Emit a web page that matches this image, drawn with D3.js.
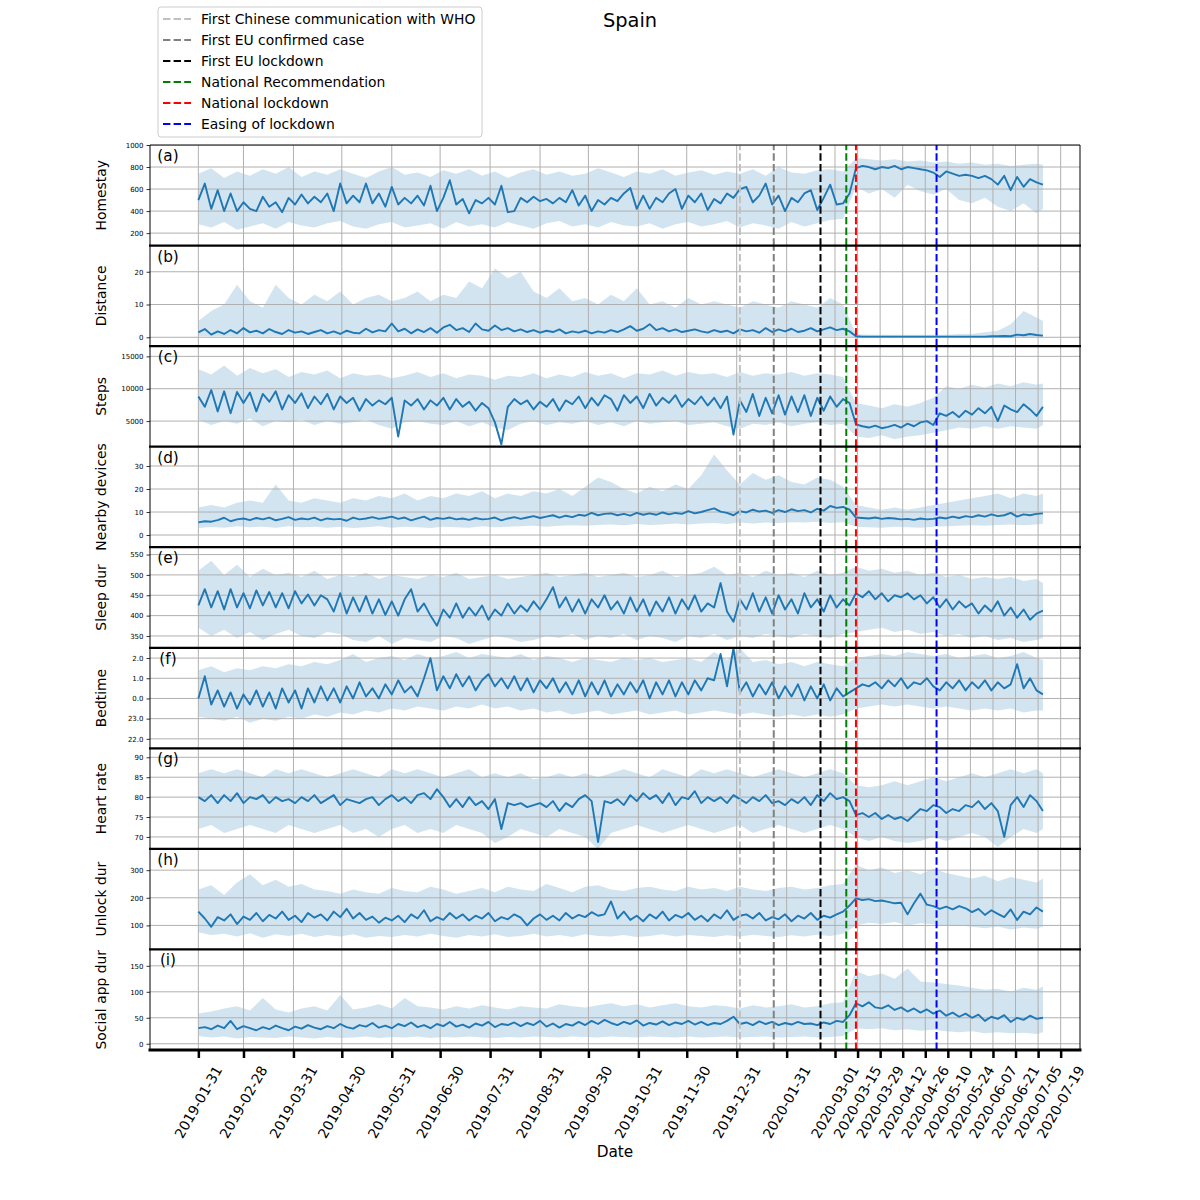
<!DOCTYPE html>
<html>
<head>
<meta charset="utf-8">
<script src="https://cdn.jsdelivr.net/npm/d3@7"></script>
<style>
  body { margin: 0; background: #fff; }
  text { font-family: "DejaVu Sans", sans-serif; }
</style>
</head>
<body>
<script>
// one value every 4 days from 2019-01-31, band every 8 days (+ last day)
const firstDayStr = '2019-01-31';

const homestay = [
  500,650,420,590,400,560,400,480,420,400,
  530,440,480,390,520,460,550,470,530,480,
  560,400,650,470,540,480,650,470,560,440,
  620,460,520,470,540,450,630,400,520,680,
  460,510,380,500,470,520,460,630,390,400,
  520,480,530,490,510,470,520,480,590,450,
  540,400,500,460,520,490,560,610,420,540,
  420,520,480,560,600,420,540,480,560,410,
  510,470,560,520,600,620,480,540,650,460,
  540,400,520,480,560,590,410,520,640,460,
  470,560,790,810,800,780,800,790,810,780,
  800,790,780,770,750,710,760,740,720,730,
  720,700,720,690,640,720,590,710,620,690,
  660,640];
const homestayLo = [
  280,250,300,230,260,290,240,300,270,250,
  290,310,260,240,280,300,250,270,290,240,
  300,260,280,250,300,270,240,290,310,260,
  280,250,300,270,260,290,240,280,300,260,
  280,310,250,290,270,240,300,260,290,320,
  330,620,560,600,520,640,580,550,600,500,
  470,520,440,400,470,380,420];
const homestayHi = [
  740,790,700,760,720,780,740,800,710,760,
  730,780,740,700,760,800,730,750,710,770,
  740,780,720,760,700,750,780,730,760,720,
  740,790,750,710,760,740,780,720,750,770,
  730,760,740,780,720,800,750,740,770,780,
  760,880,870,860,870,850,860,840,850,830,
  840,820,830,810,820,830,820];

const distance = [
  1.5,2.5,0.8,1.8,1.0,2.2,1.2,2.8,1.5,2.0,
  1.2,2.5,1.6,1.0,2.2,1.4,1.8,1.0,1.6,2.2,
  1.2,1.8,1.0,2.0,1.4,1.2,2.6,1.5,2.2,1.8,
  4.2,1.8,2.6,1.2,2.4,1.6,2.8,1.4,3.0,3.8,
  2.2,2.8,1.6,4.2,2.4,2.0,3.6,2.2,2.8,1.8,
  2.4,1.6,2.2,1.4,2.0,1.6,2.4,1.2,1.8,1.4,
  2.0,1.2,1.8,1.4,2.2,1.6,2.4,3.4,2.0,2.6,
  4.0,2.2,2.8,1.8,2.4,1.6,2.0,2.4,1.8,1.4,
  2.2,1.6,2.0,1.2,2.4,1.8,2.2,1.4,2.8,1.6,
  2.4,1.8,2.6,1.6,2.0,2.8,1.8,2.4,3.0,2.2,
  2.6,1.8,0.3,0.2,0.2,0.2,0.2,0.2,0.2,0.2,
  0.2,0.2,0.2,0.2,0.2,0.2,0.2,0.2,0.2,0.2,
  0.2,0.2,0.2,0.3,0.3,0.4,0.3,0.8,0.6,1.0,
  0.7,0.5];
const distanceLo = [
  0.3,0.2,0.3,0.2,0.3,0.2,0.3,0.2,0.3,0.2,
  0.3,0.2,0.3,0.2,0.3,0.2,0.3,0.2,0.3,0.2,
  0.2,0.3,0.2,0.3,0.2,0.3,0.2,0.3,0.2,0.3,
  0.2,0.3,0.2,0.3,0.2,0.3,0.2,0.3,0.2,0.3,
  0.3,0.2,0.3,0.2,0.3,0.2,0.3,0.2,0.3,0.2,
  0.3,0,0,0,0,0,0,0,0,0,
  0,0,0,0,0,0,0];
const distanceHi = [
  5,8,10,16,11,9,16,12,10,13,
  11,14,10,12,13,11,12,14,11,13,
  12,17,15,21,18,20,14,12,15,11,
  12,10,13,11,15,10,11,9,12,10,
  11,10,9,11,10,9,11,10,9,12,
  10,1,0.8,0.8,0.8,0.8,0.8,0.8,0.8,1,
  1,1.5,2,4,8,6,5];

const steps = [
  8800,7200,9800,6500,9600,6200,9500,7800,9400,6500,
  9200,8000,9600,6800,9000,7800,9300,7000,8800,7600,
  9200,6800,8800,7800,8600,6600,8400,7400,8200,7600,
  8600,2600,8200,7400,8400,6800,8200,7400,8600,6800,
  8400,7200,8000,6600,7800,7000,4800,1400,7200,8400,
  7600,8200,6800,8000,7200,8400,6600,8200,7600,8800,
  7000,8600,7400,9000,8400,6600,9000,7800,8800,7000,
  9200,7400,8600,7800,9000,7200,8400,7600,8800,7400,
  8600,7000,8800,2900,8200,6400,9200,5800,8600,6200,
  9000,6000,8800,6400,9000,5800,8600,6600,8800,7200,
  8400,7800,4500,4200,4000,4300,3900,4100,4400,4000,
  4600,4200,4800,5000,4400,6200,5800,6400,5600,6600,
  6000,7000,6200,7200,5000,7400,6800,6400,7600,6800,
  5800,7200];
const stepsLo = [
  5200,4400,5000,4600,5400,4200,5000,4800,5200,4400,
  5000,4600,4800,5200,4400,3800,4800,5000,4600,4400,
  5000,4200,4800,4000,3600,4600,5000,4400,4800,4600,
  5000,4400,4800,4200,5000,4600,4800,5000,4400,4600,
  4800,4200,3800,4600,4400,4800,4200,4600,4800,4400,
  4600,2600,2400,2800,2200,2600,2800,3200,3600,4000,
  3800,4200,3800,4200,4000,3800,4400];
const stepsHi = [
  13000,12200,13600,12000,13200,12400,13000,11800,12600,12200,
  12800,11600,12400,12000,12200,11600,12000,12600,11800,12400,
  11600,12200,12000,11400,12000,11800,12400,11600,12200,11800,
  12600,12000,12400,11600,12400,12200,12800,12000,12600,12200,
  12400,11800,12600,12000,12400,12200,12600,12000,12400,12200,
  11800,7800,7400,7000,7600,7200,7800,8600,10400,10000,
  10600,10200,10800,10400,11000,10600,10800];

const nearby = [
  5.5,6.0,5.8,6.5,7.5,6.0,6.8,7.2,6.5,7.4,
  6.8,7.6,6.4,7.0,7.8,6.6,7.2,6.8,7.6,6.4,
  7.2,6.8,7.0,6.2,7.6,6.8,7.2,7.8,7.0,7.4,
  8.0,7.0,7.6,6.4,7.2,8.0,6.6,7.4,7.0,7.6,
  6.8,7.2,6.6,7.4,6.8,7.0,7.6,6.4,7.2,7.8,
  7.0,7.6,8.2,7.4,8.0,8.6,7.6,8.4,7.8,8.8,
  8.4,9.6,8.6,9.2,9.4,8.6,9.2,8.4,9.6,8.8,
  9.4,8.8,9.8,9.0,9.6,9.2,10.4,9.4,10.0,10.8,
  11.6,10.2,9.6,8.6,10.4,9.8,11.0,10.2,10.6,9.6,
  10.8,10.0,11.2,10.4,10.8,9.8,11.4,10.6,12.6,11.8,
  12.2,11.0,7.6,7.4,7.2,7.6,7.0,7.4,7.2,6.8,
  7.0,6.6,7.2,6.8,7.0,7.6,7.2,8.0,7.4,8.2,
  7.8,8.6,8.0,9.0,8.2,8.6,9.6,8.0,9.0,8.6,
  9.2,9.4];
const nearbyLo = [
  3.0,3.5,3.2,3.8,3.4,3.6,3.2,3.8,3.4,3.6,
  3.2,3.6,3.0,3.4,3.8,3.2,3.6,3.4,3.0,3.6,
  3.4,3.2,3.8,3.4,3.6,3.8,4.0,3.6,4.0,4.2,
  4.0,4.4,4.6,4.2,4.8,4.4,4.6,5.0,4.6,5.0,
  5.2,4.8,5.4,5.0,5.4,5.2,5.6,5.4,5.8,5.2,
  5.6,3.6,3.4,3.2,3.6,3.4,3.2,3.6,3.8,4.0,
  4.2,4.0,4.4,4.6,4.2,4.6,4.8];
const nearbyHi = [
  12,13,12,14,15,14,22,15,14,16,
  15,14,16,15,17,16,18,15,17,16,
  18,17,19,16,18,17,19,18,20,17,
  21,25,23,20,18,21,19,22,20,26,
  35,28,22,27,24,26,23,22,25,24,
  21,13,12,11,12,11,12,13,14,15,
  16,17,18,16,18,17,18];

const sleep = [
  425,465,420,460,415,465,420,455,418,462,
  425,458,420,455,418,460,430,452,425,450,
  440,410,455,405,445,410,448,405,440,402,
  435,400,440,465,410,430,400,375,415,395,
  430,395,420,400,425,390,415,400,430,405,
  425,410,435,415,440,470,420,445,410,440,
  405,440,420,450,415,435,405,445,410,440,
  400,435,410,445,405,440,415,450,410,430,
  420,480,410,385,440,415,455,410,445,405,
  450,415,440,405,455,420,440,410,450,420,
  440,425,455,445,460,440,455,435,450,445,
  455,440,450,430,445,420,440,415,435,420,
  430,405,425,410,435,400,420,395,415,390,
  405,412];
const sleepLo = [
  370,350,365,345,360,340,355,365,350,345,
  360,355,340,335,350,330,345,340,335,350,
  345,330,340,350,345,335,340,350,345,355,
  340,350,345,355,340,350,345,335,350,345,
  355,340,350,345,355,350,345,355,350,345,
  355,360,365,370,360,365,355,360,350,355,
  345,350,340,345,335,340,345];
const sleepHi = [
  510,535,500,525,495,515,500,505,495,510,
  490,500,495,505,490,500,495,490,500,495,
  505,490,495,500,490,495,500,505,495,500,
  505,495,500,505,495,500,510,495,500,505,
  520,500,505,495,510,500,505,495,510,500,
  505,520,510,515,505,510,500,505,495,500,
  490,495,490,495,485,490,480];

// hours relative to midnight (negative = before 0:00)
const bedtime = [
  0.0,1.1,-0.3,0.4,-0.4,0.3,-0.5,0.2,-0.3,0.4,
  -0.4,0.3,-0.5,0.5,-0.2,0.4,-0.5,0.5,-0.2,0.6,
  -0.1,0.5,-0.2,0.6,0.0,0.8,0.1,0.5,0.0,0.7,
  0.2,0.9,0.3,0.6,0.1,1.0,2.0,0.4,1.1,0.5,
  1.2,0.6,1.1,0.4,0.9,1.2,0.6,1.0,0.5,1.1,
  0.4,1.0,0.3,0.9,0.5,1.0,0.3,0.8,0.2,0.9,
  0.1,0.8,0.2,0.9,0.1,0.7,0.2,0.8,0.3,0.9,
  0.0,0.8,0.2,0.9,0.1,0.8,0.2,0.9,0.4,1.0,
  0.9,2.2,0.6,2.5,0.3,0.8,0.1,0.7,0.2,0.8,
  0.0,0.6,0.1,0.7,-0.1,0.6,0.0,0.7,-0.1,0.5,
  0.1,0.3,0.5,0.7,0.6,0.8,0.5,0.9,0.6,1.0,
  0.5,0.8,0.7,1.0,0.6,0.4,0.8,0.5,0.9,0.4,
  0.8,0.5,0.9,0.4,0.8,0.5,0.7,1.7,0.5,1.0,
  0.4,0.2];
const bedtimeLo = [
  -0.9,-1.0,-1.1,-0.9,-1.2,-1.0,-1.1,-0.9,-1.0,-0.8,
  -0.9,-0.7,-0.8,-0.6,-0.7,-0.5,-0.6,-0.4,-0.5,-0.6,
  -0.4,-0.5,-0.3,-0.5,-0.4,-0.6,-0.5,-0.7,-0.6,-0.8,
  -0.7,-0.6,-0.8,-0.7,-0.6,-0.8,-0.7,-0.6,-0.8,-0.7,
  -0.6,-0.7,-0.8,-0.7,-0.8,-0.9,-0.8,-0.9,-0.8,-0.9,
  -0.8,-0.5,-0.4,-0.3,-0.4,-0.3,-0.4,-0.5,-0.4,-0.5,
  -0.6,-0.5,-0.6,-0.5,-0.7,-0.6,-0.6];
const bedtimeHi = [
  1.4,1.6,1.3,1.5,1.4,1.6,1.5,1.7,1.6,1.8,
  1.7,1.9,2.2,1.8,2.0,2.1,1.9,2.2,2.0,2.1,
  2.3,2.0,2.2,2.1,2.0,2.2,1.9,2.1,2.0,1.8,
  2.0,1.9,1.8,2.0,1.9,2.0,1.8,1.9,2.0,1.8,
  2.3,1.9,2.5,1.8,1.9,1.7,1.8,1.6,1.8,1.7,
  1.6,2.0,2.1,2.2,2.1,2.3,2.2,2.1,2.2,2.0,
  2.1,2.2,2.0,2.1,2.3,2.0,1.9];

const heart = [
  80.0,79.0,80.5,78.5,80.5,79.0,81.0,78.5,80.0,79.5,
  80.5,78.5,80.0,79.0,79.5,78.5,80.0,79.0,80.5,78.5,
  79.5,80.5,78.0,79.5,79.0,78.5,79.5,80.0,78.0,79.5,
  80.5,79.0,80.0,78.5,80.5,81.0,79.5,82.0,80.0,77.5,
  79.5,77.5,80.0,78.0,79.0,77.0,79.5,72.0,78.5,78.0,
  78.5,77.5,78.0,78.5,77.5,79.0,76.5,78.5,77.5,79.5,
  80.5,79.0,68.7,79.0,78.5,79.5,78.0,80.5,79.0,81.0,
  79.5,80.5,78.5,81.0,78.0,80.0,79.5,81.5,78.5,80.0,
  79.0,80.0,78.5,80.5,79.5,78.5,80.0,79.0,80.5,78.5,
  79.0,78.0,79.5,78.5,80.0,78.0,80.5,79.0,81.0,79.5,
  80.0,79.0,75.5,76.0,75.0,76.0,74.5,75.5,74.5,75.0,
  74.0,75.5,77.0,76.5,78.0,77.5,76.0,77.0,76.5,78.0,
  77.5,79.0,77.0,78.5,76.5,70.0,78.0,80.0,77.5,80.5,
  79.0,76.5];
const heartLo = [
  72,73,71,72,73,72,71,73,72,71,
  72,73,71,72,70,72,73,71,72,71,
  73,72,71,68.5,70,72,71,70,72,71,
  70,67,71,72,73,72,71,72,73,72,
  71,72,73,71,72,73,72,71,72,73,
  72,70,69,70,69,68.5,69,70,69,70,
  71,70,67.5,70,72,71,72];
const heartHi = [
  86,87,86,87,86,85,87,86,87,86,
  85,86,87,86,85,87,86,87,86,85,
  86,87,85,86,85,86,84.5,85,86,85,
  86,85,86,87,86,85,87,86,85,87,
  86,87,86,85,86,87,86,85,86,87,
  86,83,82.5,83,84,83,84,85,84,85,
  86,85,86,87,86,87,86];

const unlock = [
  150,125,95,130,118,140,105,132,120,145,
  115,138,125,150,120,135,112,145,128,140,
  118,150,130,160,125,145,120,132,110,128,
  118,135,112,140,125,155,115,130,120,145,
  125,140,118,135,125,145,115,130,122,140,
  128,100,125,140,120,135,118,145,125,138,
  130,148,135,140,187,125,150,120,135,115,
  140,125,150,118,138,128,145,120,135,115,
  140,125,155,120,135,140,125,145,118,130,
  122,140,115,135,125,145,120,135,128,140,
  150,172,198,192,195,188,190,185,180,182,
  140,180,215,175,170,160,168,158,170,162,
  148,160,138,155,142,130,158,120,150,140,
  165,150];
const unlockLo = [
  75,65,70,60,72,55,68,62,70,58,
  65,60,68,55,62,58,65,60,70,62,
  55,65,60,68,58,62,70,60,65,58,
  68,62,60,65,58,62,68,60,65,62,
  58,64,60,66,62,58,64,60,66,62,
  70,100,110,105,112,100,108,104,98,100,
  95,90,96,85,92,88,95];
const unlockHi = [
  230,245,210,255,285,245,265,240,250,230,
  225,215,230,220,215,235,225,220,240,230,
  215,225,235,220,240,230,225,250,235,220,
  240,245,230,225,235,240,230,225,240,230,
  235,225,240,230,225,235,240,230,235,245,
  250,320,300,310,290,300,285,305,290,280,
  270,280,260,275,265,255,270];

const social = [
  30,32,28,35,30,44,28,34,30,26,
  32,28,35,30,26,33,29,36,31,28,
  34,30,38,32,29,36,33,40,31,35,
  30,38,34,41,32,36,30,38,34,42,
  33,37,31,39,35,42,32,38,36,41,
  34,40,36,44,33,39,31,38,35,42,
  36,44,38,46,40,36,42,38,45,35,
  40,37,43,36,41,38,44,37,42,36,
  40,38,44,52,38,41,36,43,38,42,
  36,40,37,42,38,39,36,41,38,44,
  42,55,78,72,80,70,68,74,65,70,
  62,68,60,66,58,64,54,60,52,58,
  50,56,44,52,48,55,42,50,46,54,
  48,50];
const socialLo = [
  15,12,14,10,13,12,11,14,12,10,
  13,11,12,14,11,13,12,14,11,13,
  12,14,12,11,13,12,14,13,12,14,
  13,12,14,13,12,14,13,12,14,12,
  13,14,12,13,14,12,13,14,12,13,
  15,30,28,30,26,28,25,27,24,22,
  24,20,22,20,21,19,22];
const socialHi = [
  58,62,68,72,64,88,66,60,68,72,
  64,94,66,70,76,68,88,72,70,66,
  72,68,74,70,66,72,70,68,76,72,
  70,74,78,72,76,70,74,78,72,70,
  74,72,68,74,70,72,76,70,72,78,
  80,140,130,135,125,145,120,118,115,112,
  108,104,106,100,108,104,110];

const homestayTicks = [200, 400, 600, 800, 1000];
const distanceTicks = [0, 10, 20];
const stepsTicks = [5000, 10000, 15000];
const nearbyTicks = [0, 10, 20, 30];
const sleepTicks = [350, 400, 450, 500, 550];
const bedtimeTicks = [-2, -1, 0, 1, 2];
const bedtimeTickLabels = ['22.0', '23.0', '0.0', '1.0', '2.0'];
const heartTicks = [70, 75, 80, 85, 90];
const unlockTicks = [100, 200, 300];
const socialTicks = [0, 50, 100, 150];

const xTickLabels = ['2019-01-31','2019-02-28','2019-03-31','2019-04-30','2019-05-31','2019-06-30',
  '2019-07-31','2019-08-31','2019-09-30','2019-10-31','2019-11-30','2019-12-31','2020-01-31',
  '2020-03-01','2020-03-15','2020-03-29','2020-04-12','2020-04-26','2020-05-10','2020-05-24',
  '2020-06-07','2020-06-21','2020-07-05','2020-07-19'];

const eventLabels = ['First Chinese communication with WHO', 'First EU confirmed case', 'First EU lockdown',
  'National Recommendation', 'National lockdown', 'Easing of lockdown'];
const eventDates = ['2020-01-02', '2020-01-23', '2020-02-21', '2020-03-08', '2020-03-14', '2020-05-03'];
const eventColors = ['#c0c0c0', '#808080', '#000000', '#008000', '#ff0000', '#0000ff'];

const parseDay = d3.utcParse('%Y-%m-%d');
const firstDay = parseDay(firstDayStr);
const dates = homestay.map((d, i) => d3.utcDay.offset(firstDay, i * 4));
const bandDates = dates.filter((d, i) => i % 2 === 0 || i === dates.length - 1);
const xTicks = xTickLabels.map(parseDay);

const panels = [
  {name: 'Homestay', tag: '(a)', mean: homestay, lo: homestayLo, hi: homestayHi, ticks: homestayTicks, domain: [87, 1000]},
  {name: 'Distance', tag: '(b)', mean: distance, lo: distanceLo, hi: distanceHi, ticks: distanceTicks, domain: [-2.7, 28]},
  {name: 'Steps', tag: '(c)', mean: steps, lo: stepsLo, hi: stepsHi, ticks: stepsTicks, domain: [1046, 16585]},
  {name: 'Nearby devices', tag: '(d)', mean: nearby, lo: nearbyLo, hi: nearbyHi, ticks: nearbyTicks, domain: [-5.3, 38.4]},
  {name: 'Sleep dur', tag: '(e)', mean: sleep, lo: sleepLo, hi: sleepHi, ticks: sleepTicks, domain: [321, 568]},
  {name: 'Bedtime', tag: '(f)', mean: bedtime, lo: bedtimeLo, hi: bedtimeHi, ticks: bedtimeTicks, domain: [-2.47, 2.51],
    fmt: (d, i) => bedtimeTickLabels[i]},
  {name: 'Heart rate', tag: '(g)', mean: heart, lo: heartLo, hi: heartHi, ticks: heartTicks, domain: [67, 92.25]},
  {name: 'Unlock dur', tag: '(h)', mean: unlock, lo: unlockLo, hi: unlockHi, ticks: unlockTicks, domain: [13, 377]},
  {name: 'Social app dur', tag: '(i)', mean: social, lo: socialLo, hi: socialHi, ticks: socialTicks, domain: [-12, 181.5]}
];

const width = 1200, height = 1200;
const margin = {left: 150, right: 120, top: 145, bottom: 150};
const plotW = width - margin.left - margin.right;
const panelH = (height - margin.top - margin.bottom) / panels.length;

const svg = d3.select('body').append('svg').attr('width', width).attr('height', height);

const x = d3.scaleUtc()
  .domain([parseDay('2019-01-01'), parseDay('2020-07-31')])
  .range([0, plotW]);

const chart = svg.append('g').attr('transform', `translate(${margin.left}, ${margin.top})`);

panels.forEach((p, k) => {
  const g = chart.append('g').attr('transform', `translate(0, ${k * panelH})`);
  const y = d3.scaleLinear().domain(p.domain).range([panelH, 0]);

  g.append('clipPath').attr('id', 'clip' + k)
    .append('rect').attr('width', plotW).attr('height', panelH);
  const plot = g.append('g').attr('clip-path', `url(#clip${k})`);

  const band = d3.area()
    .x(d => x(d.date))
    .y0(d => y(d.lo))
    .y1(d => y(d.hi));
  plot.append('path')
    .datum(bandDates.map((d, j) => ({date: d, lo: p.lo[j], hi: p.hi[j]})))
    .attr('d', band)
    .attr('fill', '#1f77b4')
    .attr('fill-opacity', 0.2);

  // grid
  plot.append('g').selectAll('line').data(xTicks).join('line')
    .attr('x1', d => x(d)).attr('x2', d => x(d))
    .attr('y1', 0).attr('y2', panelH)
    .attr('stroke', '#b0b0b0').attr('stroke-width', 1);
  plot.append('g').selectAll('line').data(p.ticks).join('line')
    .attr('x1', 0).attr('x2', plotW)
    .attr('y1', d => y(d)).attr('y2', d => y(d))
    .attr('stroke', '#b0b0b0').attr('stroke-width', 1);

  const line = d3.line()
    .x((d, i) => x(dates[i]))
    .y(d => y(d));
  plot.append('path')
    .datum(p.mean)
    .attr('d', line)
    .attr('fill', 'none')
    .attr('stroke', '#1f77b4')
    .attr('stroke-width', 1.9)
    .attr('stroke-linejoin', 'round');

  // event lines
  plot.append('g').selectAll('line').data(eventDates).join('line')
    .attr('x1', d => x(parseDay(d))).attr('x2', d => x(parseDay(d)))
    .attr('y1', panelH).attr('y2', 0)
    .attr('stroke', (d, i) => eventColors[i])
    .attr('stroke-width', 2)
    .attr('stroke-dasharray', '7.4,3.2');

  const yAxis = d3.axisLeft(y)
    .tickValues(p.ticks)
    .tickSize(3.5)
    .tickPadding(3)
    .tickFormat(p.fmt || d3.format('d'));
  g.append('g')
    .call(yAxis)
    .call(a => a.select('.domain').remove())
    .call(a => a.selectAll('text').attr('font-size', 7).attr('font-family', '"DejaVu Sans", sans-serif'))
    .call(a => a.selectAll('line').attr('stroke-width', 0.8));

  g.append('text')
    .attr('transform', `translate(-44, ${panelH / 2}) rotate(-90)`)
    .attr('text-anchor', 'middle')
    .attr('font-size', 13.9)
    .text(p.name);

  g.append('text')
    .attr('x', 18).attr('y', 16)
    .attr('text-anchor', 'middle')
    .attr('font-size', 15.3)
    .text(p.tag);
});

// spines
const spines = chart.append('g').attr('stroke', '#000');
spines.append('line').attr('x1', 0).attr('x2', 0).attr('y1', 0).attr('y2', panelH * 9).attr('stroke-width', 1);
spines.append('line').attr('x1', plotW).attr('x2', plotW).attr('y1', 0).attr('y2', panelH * 9).attr('stroke-width', 1);
spines.append('line').attr('x1', 0).attr('x2', plotW).attr('y1', 0).attr('y2', 0).attr('stroke-width', 1);
d3.range(1, 9).forEach(k => {
  spines.append('line').attr('x1', -1).attr('x2', plotW + 1)
    .attr('y1', k * panelH).attr('y2', k * panelH).attr('stroke-width', 2.2);
});
spines.append('line').attr('x1', -1.5).attr('x2', plotW + 1.5)
  .attr('y1', panelH * 9).attr('y2', panelH * 9).attr('stroke-width', 3);

// x axis
const xAxis = d3.axisBottom(x).tickValues(xTicks).tickSize(8).tickFormat('');
const xg = chart.append('g')
  .attr('transform', `translate(0, ${panelH * 9})`)
  .call(xAxis)
  .call(a => a.select('.domain').remove())
  .call(a => a.selectAll('line').attr('stroke-width', 2.5));

const fsTick = 13.9;
xTicks.forEach((d, i) => {
  const t = xg.append('text')
    .attr('text-anchor', 'middle')
    .attr('dy', '0.35em')
    .attr('font-size', fsTick)
    .attr('fill', '#000')
    .text(xTickLabels[i]);
  const w = t.node().getComputedTextLength();
  const bh = 0.866 * w + 0.5 * fsTick * 1.17;
  t.attr('transform', `translate(${x(d)}, ${13 + bh / 2}) rotate(-60)`);
});

chart.append('text')
  .attr('x', plotW / 2).attr('y', panelH * 9 + 107)
  .attr('text-anchor', 'middle')
  .attr('font-size', 15.3)
  .text('Date');

svg.append('text')
  .attr('x', 630).attr('y', 27)
  .attr('text-anchor', 'middle')
  .attr('font-size', 19.4)
  .text('Spain');

// legend
const legend = svg.append('g').attr('transform', 'translate(158, 7)');
legend.append('rect')
  .attr('width', 324).attr('height', 130).attr('rx', 3)
  .attr('fill', '#fff').attr('fill-opacity', 0.8)
  .attr('stroke', '#cccccc').attr('stroke-width', 1);
eventLabels.forEach((name, i) => {
  const row = legend.append('g').attr('transform', `translate(0, ${12 + i * 21})`);
  row.append('line')
    .attr('x1', 5).attr('x2', 33)
    .attr('stroke', eventColors[i]).attr('stroke-width', 2)
    .attr('stroke-dasharray', '7.4,3.2');
  row.append('text')
    .attr('x', 43).attr('dy', '0.35em')
    .attr('font-size', 13.9)
    .text(name);
});
</script>
</body>
</html>
